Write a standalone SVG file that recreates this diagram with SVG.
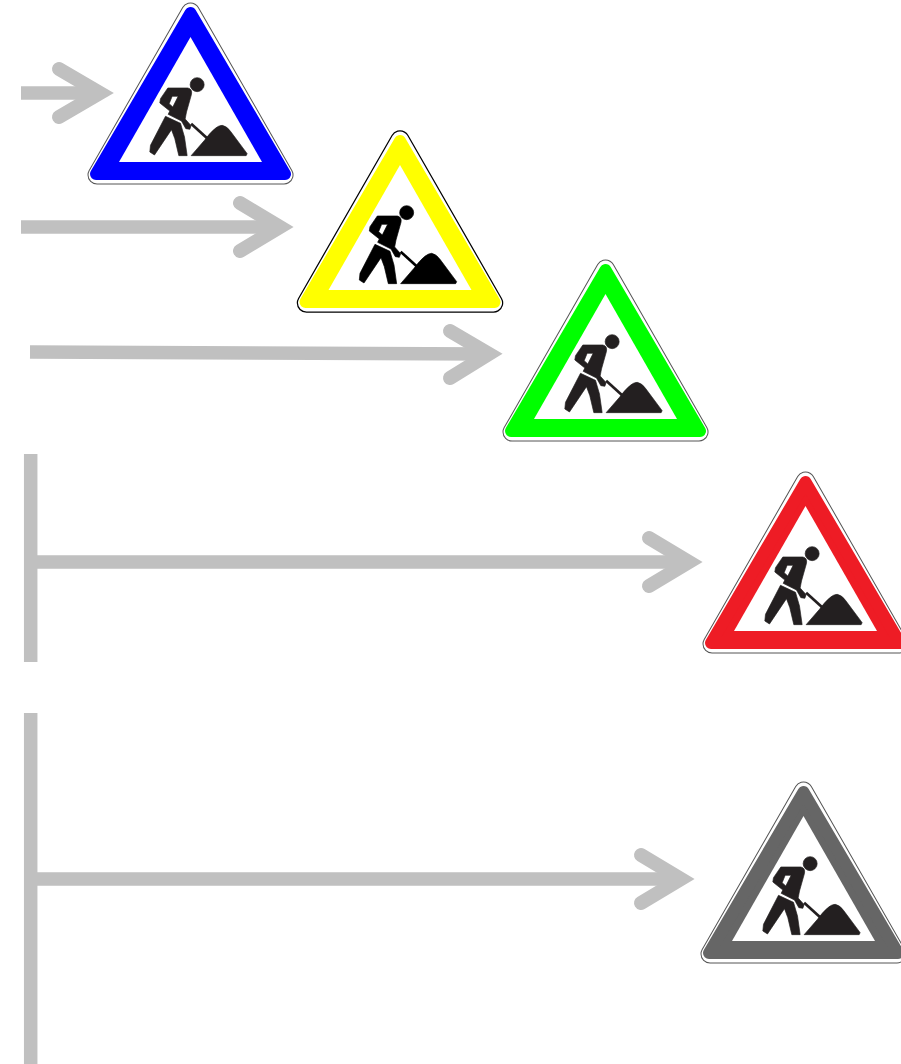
<svg xmlns="http://www.w3.org/2000/svg" width="901" height="1064" viewBox="0 0 901 1064">
<style>
.a{fill:none;stroke:#c0c0c0;stroke-width:13.500}
.h{stroke-width:14;stroke-linecap:round;stroke-linejoin:miter;stroke-miterlimit:10}
.o{fill:#fff;stroke:var(--l);stroke-width:var(--t);stroke-linejoin:round}
.w{fill:#fff;stroke:#fff;stroke-width:17;stroke-linejoin:round}
.c{fill:currentColor;stroke:currentColor;stroke-width:12;stroke-linejoin:round}
.i{fill:#fff}
.k{fill:var(--k);stroke:var(--k);stroke-width:2;stroke-linejoin:round}
.s{fill:none;stroke:var(--k);stroke-width:8}
.n{--k:#231f20;--l:#555;--t:19}
</style>
<defs>
<g id="sign">
<polygon class="o" points="190.5,12 284,175 97,175"/>
<polygon class="w" points="190.5,12 284,175 97,175"/>
<polygon class="c" points="190.5,13 285,174 96,174"/>
<polygon class="i" points="190.5,37 262,162 119,162"/>
<g transform="translate(80.5 -3) scale(.3333)">
<circle class="k" cx="350" cy="263" r="21"/>
<path class="k" fill-rule="evenodd" d="M262,273L322,273Q336,276 333,292L318,345L314,366L332,386L328,397L316,395L303,372L263,352L268,342L238,318L240,305ZM275,298L293,298L277,330L266,320Z"/>
<path class="k" d="M255,358L300,379L312,420L320,476L295,476L283,425L273,398L222,474L208,465L210,445Z"/>
<path class="s" d="M332,380L380,424"/>
<path class="k" d="M332,476L372,430Q405,385 425,385Q440,388 450,403L500,470L497,476Z"/>
</g>
</g>
</defs>
<g id="connectors">
<path class="a" d="M21,93H100"/><path class="a h" d="M59,69L100,93L59,117"/>
<path class="a" d="M21,227H280"/><path class="a h" d="M240,203L280,227L240,251"/>
<path class="a" d="M30,352L488,354"/><path class="a h" d="M450,331L489,354L450,378"/>
<path class="a" d="M30.700,454V662M37,562H690"/><path class="a h" d="M649,538L689,562L649,586"/>
<path class="a" d="M30.700,713V1064M37,879H682"/><path class="a h" d="M641,855L681,879L641,903"/>
</g>
<g id="sign-blue" class="n"><use href="#sign" style="color:#0000ff"/></g>
<g id="sign-yellow" style="--k:#000;--l:#000;--t:19.500"><use href="#sign" x="209.500" y="128" style="color:#ffff00"/></g>
<g id="sign-green" class="n"><use href="#sign" x="415" y="257" style="color:#00ff00"/></g>
<g id="sign-red" class="n"><use href="#sign" x="615" y="469" style="color:#ee1c25"/></g>
<g id="sign-gray" class="n"><use href="#sign" x="613" y="779" style="color:#666666"/></g>
</svg>
